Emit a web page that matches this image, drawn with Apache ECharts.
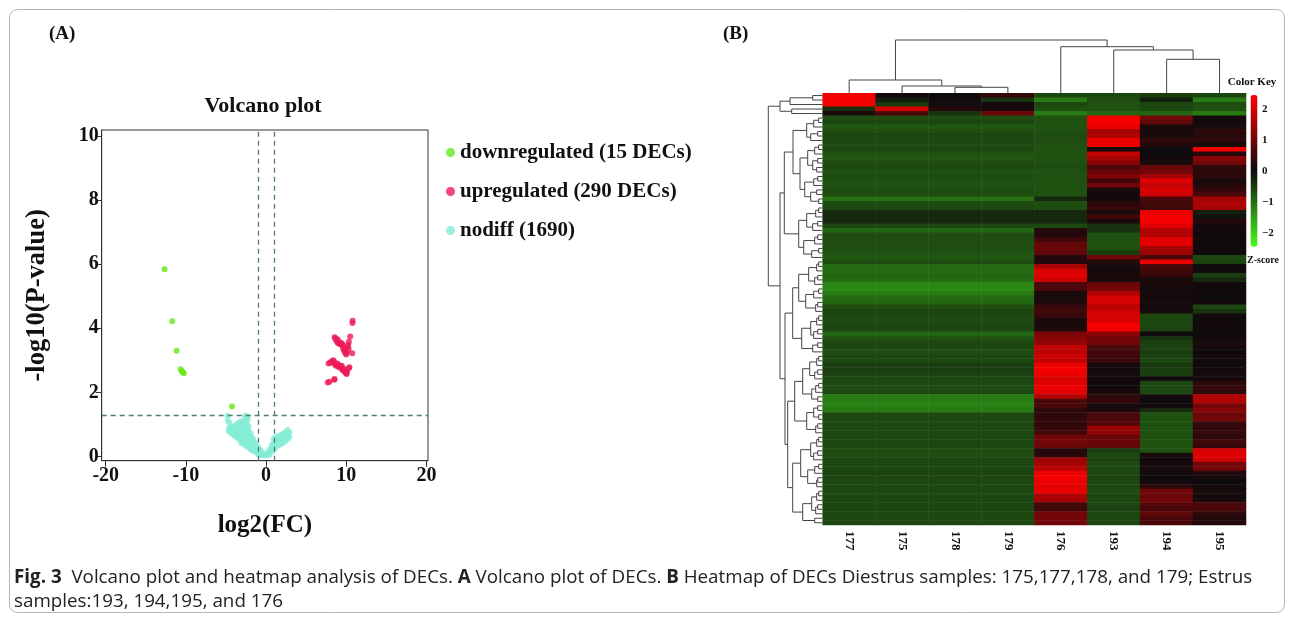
<!DOCTYPE html>
<html><head><meta charset="utf-8">
<script src="https://cdn.jsdelivr.net/npm/echarts@6/dist/echarts.min.js"></script>
<style>html,body{margin:0;padding:0;background:#fff}#c{width:1293px;height:618px}</style>
</head><body><div id="c"></div>
<script>
// ---------- Panel A: volcano plot data ----------
const xTicks = [-20, -10, 0, 10, 20];
const yTicks = [0, 2, 4, 6, 8, 10];
const fcCut = [-1, 1];
const pCut = 1.3;
const downPts = [[-12.66,5.84],[-11.7,4.22],[-11.16,3.30],[-10.66,2.72],[-10.5,2.66],[-10.41,2.63],[-10.25,2.60],[-4.25,1.56]];
const upPts = [[7.7,2.31],[7.9,2.33],[8.5,2.39],[8.55,2.42],
 [7.8,2.9],[8.0,2.93],[8.2,2.97],[8.3,2.92],[8.4,3.0],[8.5,2.95],[8.6,2.88],[8.7,2.83],[8.8,2.86],[8.9,2.9],[9.0,2.82],[9.1,2.78],[9.2,2.8],[9.3,2.84],[9.4,2.76],[9.45,2.82],[9.5,2.72],[9.6,2.68],[9.7,2.74],[9.8,2.66],[9.9,2.62],[10.0,2.6],[10.05,2.57],[10.1,2.64],[10.3,2.75],[10.4,2.78],
 [8.55,3.72],[8.63,3.69],[8.75,3.62],[8.92,3.55],[8.95,3.65],[9.0,3.58],[9.1,3.52],[9.25,3.5],[9.35,3.55],[9.46,3.48],[9.55,3.5],[9.6,3.38],[9.7,3.33],[9.8,3.28],[9.88,3.33],[9.9,3.22],[10.0,3.18],[10.1,3.25],[10.17,3.43],[10.25,3.48],[10.33,3.58],[10.3,3.35],[10.5,3.74],[10.75,3.22],[10.8,4.23],[10.78,4.16]];
const nodiffPts = [[-4.8,1.27],[-4.75,1.12],
 [-4.6,1.05],[-4.6,0.88],[-4.6,0.82],[-4.6,0.78],
 [-4.3,0.92],[-4.3,0.86],[-4.3,0.78],[-4.3,0.72],
 [-4.0,0.95],[-4.0,0.85],[-4.0,0.75],[-4.0,0.66],
 [-3.7,1.0],[-3.7,0.9],[-3.7,0.8],[-3.7,0.7],[-3.7,0.6],
 [-3.4,1.05],[-3.4,0.95],[-3.4,0.85],[-3.4,0.75],[-3.4,0.64],[-3.4,0.55],
 [-3.1,1.1],[-3.1,1.0],[-3.1,0.9],[-3.1,0.8],[-3.1,0.7],[-3.1,0.6],[-3.1,0.5],[-3.1,0.43],
 [-2.8,1.08],[-2.8,0.98],[-2.8,0.88],[-2.8,0.78],[-2.8,0.68],[-2.8,0.58],[-2.8,0.48],[-2.8,0.38],
 [-2.6,1.27],[-2.6,1.2],
 [-2.5,1.05],[-2.5,0.95],[-2.5,0.85],[-2.5,0.72],[-2.5,0.62],[-2.5,0.52],[-2.5,0.42],[-2.5,0.33],
 [-2.3,1.25],[-2.3,1.15],
 [-2.2,0.95],[-2.2,0.85],[-2.2,0.75],[-2.2,0.65],[-2.2,0.55],[-2.2,0.45],[-2.2,0.35],[-2.2,0.28],
 [-1.9,0.72],[-1.9,0.62],[-1.9,0.52],[-1.9,0.42],[-1.9,0.32],[-1.9,0.22],
 [-1.6,0.55],[-1.6,0.45],[-1.6,0.35],[-1.6,0.25],[-1.6,0.17],
 [-1.3,0.42],[-1.3,0.33],[-1.3,0.24],[-1.3,0.14],
 [-1.0,0.3],[-1.0,0.22],[-1.0,0.14],[-1.0,0.07],
 [-0.7,0.2],[-0.7,0.12],[-0.7,0.05],
 [-0.4,0.1],[-0.4,0.03],[-0.15,0.03],
 [0.15,0.04],[0.15,0.1],
 [0.4,0.2],[0.4,0.1],[0.4,0.05],
 [0.7,0.36],[0.7,0.25],[0.7,0.14],
 [0.95,0.55],[0.95,0.42],[0.95,0.3],[0.95,0.2],
 [1.2,0.6],[1.2,0.5],[1.2,0.38],[1.2,0.28],
 [1.5,0.64],[1.5,0.54],[1.5,0.44],[1.5,0.34],
 [1.8,0.66],[1.8,0.56],[1.8,0.46],[1.8,0.38],
 [2.1,0.7],[2.1,0.6],[2.1,0.5],[2.1,0.42],
 [2.4,0.76],[2.4,0.66],[2.4,0.56],[2.4,0.48],
 [2.7,0.83],[2.7,0.72],[2.7,0.62],[2.7,0.55],
 [2.9,0.75],[2.9,0.62]];
const seriesNames = ['downregulated (15 DECs)', 'upregulated (290 DECs)', 'nodiff (1690)'];

// ---------- Panel B: heatmap data (z-scores, 96 row bands, top to bottom) ----------
const samples = ['177','175','178','179','176','193','194','195'];
const top177 = [2.3, 2.3, 2.3, -0.35, 0.1];
const top175 = [0.05, -0.2, -0.45, 2.0, 0.6];
const top178 = [0.0, 0.05, -0.05, 0.2, -0.4];
const top179 = [0.4, -0.4, 0.05, 0.1, 0.9];
const diestrusRows = [
 -0.65,-0.6,-0.75,-0.65,-0.6,-0.6,-0.65,-0.6,-0.7,-0.75,-0.65,-0.6,-0.7,-0.65,-0.7,-0.7,-0.65,-0.65,
 -1.0,-0.65,-0.6,-0.3,-0.3,-0.3,-0.6,-0.9,-0.65,-0.65,-0.65,-0.65,-0.7,-0.75,-0.65,
 -0.95,-0.95,-0.9,-0.95,-1.2,-1.25,-1.1,-0.95,-0.9,-0.65,-0.6,-0.6,-0.65,-0.6,-0.6,
 -0.9,-0.7,-0.6,-0.6,-0.65,-0.6,-0.6,-0.5,-0.5,-0.55,-0.6,-0.6,-0.65,-0.6,
 -1.1,-1.15,-1.15,-1.1,-0.6,
 -0.6,-0.6,-0.62,-0.6,-0.6,-0.58,-0.6,-0.65,-0.65,-0.6,-0.6,-0.6,-0.55,-0.6,-0.6,-0.62,-0.6,-0.6,-0.6,-0.58,-0.6,-0.6,-0.62,-0.6];
const col176 = [-0.6,-1.1,-0.6,-0.7,-1.1,
 -0.7,-0.7,-0.7,-0.7,-0.65,-0.65,-0.7,-0.7,-0.7,-0.7,-0.7,-0.65,-0.7,-0.7,-0.7,-0.7,-0.7,-0.7,
 -0.3,-0.65,-0.65,-0.3,-0.3,-0.3,-0.6,0.2,0.2,0.5,0.8,0.9,0.8,0.2,0.2,
 1.5,2.0,2.1,1.9,0.6,0.6,0.1,0.1,0.15,0.4,0.5,0.4,0.1,0.1,0.15,
 1.1,1.2,1.3,1.8,1.7,1.9,1.8,2.2,2.3,2.2,2.0,2.1,2.2,2.1,
 1.6,0.6,0.6,0.3,0.3,
 0.35,0.3,0.4,0.5,1.0,1.0,0.9,0.2,0.2,1.4,1.5,1.7,2.2,2.3,2.2,2.1,2.2,1.6,1.5,0.5,0.5,1.0,1.0,1.0];
const col193 = [-0.6,-0.65,-0.7,-0.7,-0.9,
 2.3,2.3,2.2,1.5,1.6,2.2,2.2,0.1,1.8,1.5,1.2,0.6,0.9,1.1,0.5,1.0,0.1,0.05,
 0.05,0.3,0.4,0.1,0.5,0.1,-0.4,-0.4,-0.7,-0.7,-0.7,-0.7,-0.5,1.0,0.2,
 0.1,0.05,0.1,0.1,0.9,1.0,1.6,2.0,2.0,1.7,1.9,2.0,2.0,2.3,2.3,
 1.2,1.0,1.0,0.6,0.5,0.5,0.4,0.05,0.05,0.1,0.05,0.0,0.05,0.1,
 0.3,0.4,0.1,0.1,0.6,
 0.6,0.7,1.4,1.3,0.9,0.9,0.8,-0.5,-0.6,-0.55,-0.65,-0.6,-0.6,-0.55,-0.6,-0.6,-0.65,-0.6,-0.6,-0.6,-0.55,-0.6,-0.6,-0.6];
const col194 = [-0.5,-0.2,-0.6,-0.6,-0.9,
 1.0,0.8,0.1,0.1,0.1,0.3,0.2,0.0,0.0,0.05,0.1,0.9,1.0,1.5,2.1,1.8,2.0,1.9,
 0.6,0.5,0.5,2.2,2.3,2.3,2.1,1.6,1.6,2.1,2.1,1.5,1.4,0.6,2.2,
 0.6,0.5,0.4,0.1,0.1,0.05,0.1,0.05,0.1,0.05,0.1,-0.6,-0.6,-0.6,-0.55,
 0.0,-0.4,-0.55,-0.55,-0.5,-0.55,-0.6,-0.45,-0.5,-0.5,0.0,-0.6,-0.6,-0.6,
 0.05,0.0,0.05,-0.3,-0.7,
 -0.7,-0.7,-0.7,-0.7,-0.7,-0.7,-0.7,-0.7,0.1,0.05,0.05,0.1,0.05,0.0,0.05,0.3,1.0,0.9,1.0,0.7,0.6,0.8,0.6,0.6];
const col195 = [-0.6,-1.1,-0.65,-0.7,-1.1,
 0.05,0.05,0.1,0.3,0.25,0.3,0.1,2.3,0.2,1.2,1.0,0.3,0.3,0.3,0.1,0.2,0.4,0.6,
 1.5,1.6,1.5,-0.2,-0.1,0.2,0.05,0.05,0.0,0.05,0.0,0.05,0.0,-0.6,-0.55,
 0.0,0.05,-0.5,-0.3,0.05,0.0,0.05,0.0,0.05,-0.6,-0.4,0.05,0.0,0.05,0.05,
 0.0,0.05,0.1,0.05,0.0,0.05,0.05,0.0,0.05,0.1,0.05,0.3,0.4,0.3,
 1.6,1.6,1.0,1.2,0.9,
 1.0,0.4,0.35,0.4,0.3,0.5,0.4,2.0,2.1,1.9,1.0,1.0,0.2,0.05,0.0,0.05,0.1,0.05,0.1,0.6,0.6,0.3,0.2,0.2];
const keyTicks = [2, 1, 0, -1, -2];
// column dendrogram: [height, left, right]; leaves = column index
const colTree = [53.3, [13.3, 0, [7.3, 1, [6, 2, 3]]], [46.6, 4, [43.3, 5, [34, 6, 7]]]];
// row dendrogram: leaves = row band index
const rowTree = [54.4,
  [42.7, [32.7, [10, 0, 1], 2], [31, 3, 4]],
  [42.7,
    [38.4,
      [29.7,
        [16, [9, [4, 5, 6], 7], [12, [5, 8, 9], 10]],
        [22.7, [15, [8, [4, 11, 12], 13], [10, [5, 14, 15], [6, 16, 17]]], [18, [9, [5, 18, 19], 20], [12, [6, 21, 22], [4, 23, 24]]]]],
      [24, [16, [7, [4, 25, 26], 27], [10, [5, 28, 29], 30]], [19, [8, [5, 31, 32], 33], [11, [4, 34, 35], 36]]]],
    [37.7,
      [30, [24, [14, [6, [4, 37, 38], 39], [8, [5, 40, 41], 42]], [17, [9, [4, 43, 44], 45], [7, [5, 46, 47], 48]]], [21, [12, [6, [4, 49, 50], 51], [9, [5, 52, 53], 54]], [10, [5, 55, 56], 57]]],
      [35,
        [28, [20, [13, [6, [4, 58, 59], 60], [8, [5, 61, 62], 63]], [11, [7, [4, 64, 65], 66], [5, 67, 68]]], [16, [9, [5, 69, 70], [4, 71, 72]], [7, [5, 73, 74], 75]]],
        [30, [22, [12, [6, [4, 76, 77], 78], [9, [5, 79, 80], 81]], [15, [8, [4, 82, 83], 84], [6, [5, 85, 86], 87]]], [20, [11, [6, [4, 88, 89], 90], [7, [5, 91, 92], 93]], [8, 94, 95]]]]]]];

// ---------- build ----------
const SERIF = 'Liberation Serif';
const columns = [top177.concat(diestrusRows), top175.concat(diestrusRows), top178.concat(diestrusRows), top179.concat(diestrusRows), col176, col193, col194, col195];
const nRows = col176.length;
const rowIds = col176.map((v, i) => String(i));
const heatData = [];
columns.forEach((col, c) => col.forEach((v, r) => heatData.push([c, r, v])));

function layoutTree(node, segs) {
  if (!Array.isArray(node)) return { p: node + 0.5, h: 0 };
  const a = layoutTree(node[1], segs), b = layoutTree(node[2], segs);
  segs.push([node[0], a.p, a.h, b.p, b.h]);
  return { p: (a.p + b.p) / 2, h: node[0] };
}
const colSegs = []; layoutTree(colTree, colSegs);
const rowSegs = []; layoutTree(rowTree, rowSegs);

const chart = echarts.init(document.getElementById('c'), null, { renderer: 'canvas' });
const boldSerif = (size) => ({ fontFamily: SERIF, fontWeight: 'bold', fontSize: size, color: '#111' });
const scatterBase = { type: 'scatter', xAxisIndex: 0, yAxisIndex: 0, symbolSize: 6, silent: true, animation: false };

const option = {
  backgroundColor: '#fff',
  animation: false,
  textStyle: { fontFamily: SERIF },
  grid: [
    { left: 101.7, top: 130, width: 326.3, height: 330.7, show: true, borderColor: '#333', borderWidth: 1, outerBoundsMode: 'none' },
    { left: 822.7, top: 93.3, width: 423.3, height: 431.7, outerBoundsMode: 'none' },
    { left: 822.7, top: 38.3, width: 423.3, height: 55, outerBoundsMode: 'none' },
    { left: 765, top: 93.3, width: 57.7, height: 431.7, outerBoundsMode: 'none' },
    { left: 1259, top: 95, width: 1, height: 151.7, outerBoundsMode: 'none' }
  ],
  xAxis: [
    { gridIndex: 0, type: 'value', min: -20.5, max: 20.2,
      axisLine: { show: true, onZero: false, lineStyle: { color: '#333' } },
      axisTick: { show: true, length: 6, customValues: xTicks, lineStyle: { color: '#333' } },
      axisLabel: { customValues: xTicks, margin: 5, ...boldSerif(20) },
      splitLine: { show: false },
      name: 'log2(FC)', nameLocation: 'middle', nameGap: 52, nameTextStyle: boldSerif(25) },
    { gridIndex: 1, type: 'category', data: samples, position: 'bottom',
      axisLine: { show: false }, axisTick: { show: false },
      axisLabel: { rotate: -90, margin: 6, ...boldSerif(13) } },
    { gridIndex: 2, type: 'value', min: 0, max: samples.length, show: false },
    { gridIndex: 3, type: 'value', min: 0, max: 57.7, inverse: true, show: false },
    { gridIndex: 4, type: 'value', show: false }
  ],
  yAxis: [
    { gridIndex: 0, type: 'value', min: -0.13, max: 10.18,
      axisLine: { show: true, onZero: false, lineStyle: { color: '#333' } },
      axisTick: { show: true, length: 6, customValues: yTicks, lineStyle: { color: '#333' } },
      axisLabel: { customValues: yTicks, margin: 3, ...boldSerif(20) },
      splitLine: { show: false },
      name: '-log10(P-value)', nameLocation: 'middle', nameGap: 51, nameRotate: 90, nameTextStyle: boldSerif(26.5) },
    { gridIndex: 1, type: 'category', data: rowIds, inverse: true, show: false },
    { gridIndex: 2, type: 'value', min: 0, max: 55, show: false },
    { gridIndex: 3, type: 'value', min: 0, max: nRows, inverse: true, show: false },
    { gridIndex: 4, type: 'value', min: -2.43, max: 2.45, position: 'right',
      axisLine: { show: false }, axisTick: { show: false }, splitLine: { show: false },
      axisLabel: { customValues: keyTicks, margin: 2, formatter: (v) => String(v).replace('-', '\u2212'), ...boldSerif(11) } }
  ],
  legend: {
    data: seriesNames, orient: 'vertical', left: 446, top: 142, padding: 0,
    itemWidth: 9, itemHeight: 9, itemGap: 18, icon: 'circle',
    textStyle: { ...boldSerif(21), lineHeight: 21 }, selectedMode: false
  },
  visualMap: {
    type: 'continuous', seriesIndex: 3, min: -2.4, max: 2.4, calculable: false,
    orient: 'vertical', left: 1250.5, top: 95, itemWidth: 7, itemHeight: 151.7, padding: 0,
    text: null, show: true, hoverLink: false,
    inRange: { color: ['#45ff1a', '#0f0a0d', '#ff0000'] }
  },
  series: [
    { ...scatterBase, name: seriesNames[2], data: nodiffPts, itemStyle: { color: '#84ecd6' },
      markLine: { silent: true, symbol: ['none', 'none'], label: { show: false }, animation: false,
        lineStyle: { type: [5, 4], color: '#4f7c70', width: 1.3 },
        data: [{ xAxis: fcCut[0] }, { xAxis: fcCut[1] }, { yAxis: pCut }] } },
    { ...scatterBase, name: seriesNames[0], data: downPts, itemStyle: { color: '#66e619' } },
    { ...scatterBase, name: seriesNames[1], data: upPts, itemStyle: { color: '#ec1b58' } },
    { type: 'heatmap', xAxisIndex: 1, yAxisIndex: 1, data: heatData, silent: true, emphasis: { disabled: true }, progressive: 0 },
    { type: 'custom', xAxisIndex: 2, yAxisIndex: 2, data: colSegs, silent: true,
      renderItem: (params, api) => {
        const h = api.value(0), pL = api.value(1), hL = api.value(2), pR = api.value(3), hR = api.value(4);
        return { type: 'polyline', shape: { points: [api.coord([pL, hL]), api.coord([pL, h]), api.coord([pR, h]), api.coord([pR, hR])] },
          style: { stroke: '#444', lineWidth: 1, fill: null } };
      } },
    { type: 'custom', xAxisIndex: 3, yAxisIndex: 3, data: rowSegs, silent: true,
      renderItem: (params, api) => {
        const h = api.value(0), pL = api.value(1), hL = api.value(2), pR = api.value(3), hR = api.value(4);
        return { type: 'polyline', shape: { points: [api.coord([hL, pL]), api.coord([h, pL]), api.coord([h, pR]), api.coord([hR, pR])] },
          style: { stroke: '#444', lineWidth: 1, fill: null } };
      } }
  ],
  graphic: [
    { type: 'rect', silent: true, shape: { x: 9.5, y: 9.5, width: 1275, height: 603, r: 8 }, style: { fill: null, stroke: '#b5b5b5', lineWidth: 1 } },
    { type: 'text', left: 49, top: 25, style: { text: '(A)', font: 'bold 19px "Liberation Serif"', fill: '#111' } },
    { type: 'text', left: 723, top: 25, style: { text: '(B)', font: 'bold 19px "Liberation Serif"', fill: '#111' } },
    { type: 'text', x: 263, y: 106, style: { text: 'Volcano plot', font: 'bold 22px "Liberation Serif"', fill: '#111', textAlign: 'center', textVerticalAlign: 'middle' } },
    { type: 'text', x: 1252, y: 82.5, style: { text: 'Color Key', font: 'bold 11px "Liberation Serif"', fill: '#111', textAlign: 'center', textVerticalAlign: 'middle' } },
    { type: 'text', x: 1263, y: 260, style: { text: 'Z-score', font: 'bold 10px "Liberation Serif"', fill: '#111', textAlign: 'center', textVerticalAlign: 'middle' } },
    { type: 'text', left: 14, top: 565, style: {
        text: '{b|Fig. 3}  Volcano plot and heatmap analysis of DECs. {b|A} Volcano plot of DECs. {b|B} Heatmap of DECs Diestrus samples: 175,177,178, and 179; Estrus\nsamples:193, 194,195, and 176',
        font: '18.8px "Open Sans"', fill: '#222', lineHeight: 24.5,
        rich: { b: { fontWeight: 'bold', fontFamily: 'Open Sans', fontSize: 18.8, fill: '#222' } } } }
  ]
};
chart.setOption(option);
</script>
</body></html>
